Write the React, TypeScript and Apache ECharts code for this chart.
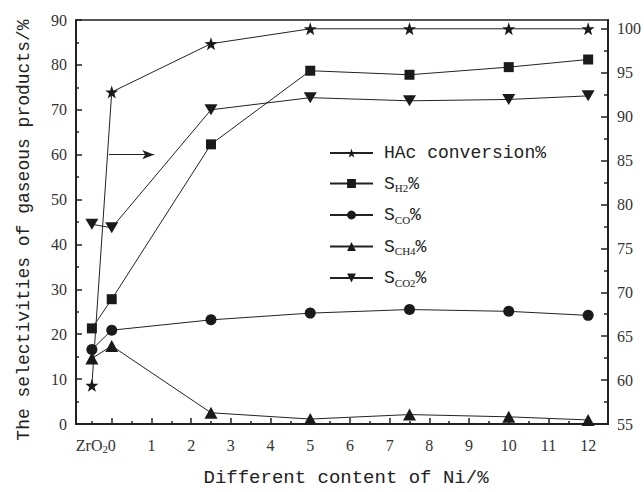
import React, { useEffect, useRef } from "react";
import * as echarts from "echarts";

// ---- data ----
const xValues = [-0.5, 0, 2.5, 5, 7.5, 10, 12];
const hacConversion = [59.4, 92.8, 98.3, 100, 100, 100, 100];
const sH2 = [21.3, 27.8, 62.3, 78.7, 77.8, 79.5, 81.2];
const sCO = [16.6, 20.9, 23.2, 24.7, 25.5, 25.1, 24.2];
const sCH4 = [14.6, 17.4, 2.5, 1.1, 2.1, 1.6, 0.9];
const sCO2 = [44.5, 43.7, 70.0, 72.7, 72.0, 72.3, 73.1];

const xMajorTicks = [0, 1, 2, 3, 4, 5, 6, 7, 8, 9, 10, 11, 12];
const xSupportLabel = [-0.5];
const xMinorTicks = [-0.5, 0.5, 1.5, 2.5, 3.5, 4.5, 5.5, 6.5, 7.5, 8.5, 9.5, 10.5, 11.5];
const rightMajorTicks = [55, 60, 65, 70, 75, 80, 85, 90, 95, 100];
const rightMinorTicks = [57.5, 62.5, 67.5, 72.5, 77.5, 82.5, 87.5, 92.5, 97.5];
const arrowFrom = [-0.07, 60];
const arrowTo = [1.07, 60];

const seriesNames = ["HAc conversion%", "SH2%", "SCO%", "SCH4%", "SCO2%"];
const legendLabels: Record<string, string> = {
  "HAc conversion%": "{m|HAc conversion%}",
  "SH2%": "{m|S}{s|H2}{m|%}",
  "SCO%": "{m|S}{s|CO}{m|%}",
  "SCH4%": "{m|S}{s|CH4}{m|%}",
  "SCO2%": "{m|S}{s|CO2}{m|%}",
};

const STAR =
  "path://M100 0 L123.5 67.6 L195.1 69.1 L138 112.4 L158.8 180.9 L100 140 L41.2 180.9 L62 112.4 L4.9 69.1 L76.5 67.6 Z";
const DOWN_TRI = "path://M0 0 L20 0 L10 17 Z";

const INK = "#1a1a1a";
const MONO = "'Liberation Mono', 'DejaVu Sans Mono', monospace";
const SERIF = "'Liberation Serif', 'DejaVu Serif', serif";

export default function App() {
  const ref = useRef<HTMLDivElement>(null);
  useEffect(() => {
    if (!ref.current) return;
    const chart = echarts.init(ref.current, undefined, { renderer: "svg" });
    const pts = (arr: number[]) => arr.map((v, i) => [xValues[i], v]);
    const lineBase = {
      type: "line" as const,
      xAxisIndex: 0,
      lineStyle: { color: "#222", width: 1 },
      itemStyle: { color: INK },
      showSymbol: true,
      z: 3,
    };
    const tickLabel = { margin: 12, fontFamily: SERIF, fontSize: 16, color: "#333", lineHeight: 18 };
    chart.setOption({
      animation: false,
      backgroundColor: "#fff",
      grid: {
        left: 76,
        top: 20,
        right: 36,
        bottom: 68,
        show: true,
        borderColor: "#222",
        borderWidth: 1.5,
        backgroundColor: "transparent",
      },
      legend: {
        orient: "vertical",
        left: 324,
        top: 139,
        itemWidth: 43,
        itemHeight: 11,
        itemGap: 12.5,
        data: seriesNames,
        formatter: (name: string) => legendLabels[name] || name,
        textStyle: {
          color: "#222",
          padding: [0, 0, 0, 6],
          rich: {
            m: { fontFamily: MONO, fontSize: 18, lineHeight: 20, color: "#222" },
            s: {
              fontFamily: SERIF,
              fontSize: 11,
              lineHeight: 0,
              verticalAlign: "bottom",
              color: "#222",
            },
          },
        },
      },
      xAxis: [
        {
          type: "value",
          min: -0.9,
          max: 12.5,
          position: "bottom",
          name: "Different content of Ni/%",
          nameLocation: "middle",
          nameGap: 44,
          nameTextStyle: {
            fontFamily: MONO,
            fontSize: 19,
            color: "#222",
            padding: [0, 0, 0, 8],
          },
          axisLine: { show: true, onZero: false, lineStyle: { color: "#222", width: 2 } },
          axisTick: {
            show: true,
            inside: true,
            length: 6,
            customValues: xMajorTicks,
            lineStyle: { color: "#222", width: 1.5 },
          },
          axisLabel: {
            ...tickLabel,
            customValues: xSupportLabel,
            showMinLabel: true,
            showMaxLabel: true,
            formatter: () => "{m|ZrO}{s|2}",
            rich: {
              m: { fontFamily: SERIF, fontSize: 16, lineHeight: 18, color: "#333" },
              s: {
                fontFamily: SERIF,
                fontSize: 11,
                lineHeight: 4,
                verticalAlign: "bottom",
                color: "#333",
              },
            },
          },
          splitLine: { show: false },
        },
        {
          type: "value",
          min: -0.9,
          max: 12.5,
          position: "bottom",
          axisLine: { show: false, onZero: false },
          axisTick: {
            show: true,
            inside: true,
            length: 3,
            customValues: xMinorTicks,
            lineStyle: { color: "#222", width: 1.5 },
          },
          axisLabel: {
            ...tickLabel,
            customValues: xMajorTicks,
            showMinLabel: true,
            showMaxLabel: true,
          },
          splitLine: { show: false },
        },
      ],
      yAxis: [
        {
          type: "value",
          min: 0,
          max: 90,
          interval: 10,
          position: "left",
          name: "The selectivities of gaseous products/%",
          nameLocation: "middle",
          nameRotate: 90,
          nameGap: 43,
          nameTextStyle: {
            fontFamily: MONO,
            fontSize: 18,
            color: "#222",
            padding: [0, 16, 0, 0],
          },
          axisLine: { show: true, onZero: false, lineStyle: { color: "#222", width: 2 } },
          axisTick: { show: true, inside: true, length: 6, lineStyle: { color: "#222", width: 1.5 } },
          minorTick: { show: true, splitNumber: 2, length: 3, lineStyle: { color: "#222", width: 1.5 } },
          axisLabel: { margin: 9, fontFamily: SERIF, fontSize: 16, color: "#333" },
          splitLine: { show: false },
        },
        {
          type: "value",
          min: 55,
          max: 101,
          position: "right",
          axisLine: { show: true, onZero: false, lineStyle: { color: "#222", width: 2 } },
          axisTick: {
            show: true,
            inside: true,
            length: 7,
            customValues: rightMajorTicks,
            lineStyle: { color: "#222", width: 1.5 },
          },
          axisLabel: {
            customValues: rightMajorTicks,
            margin: 9,
            fontFamily: SERIF,
            fontSize: 16,
            color: "#333",
          },
          splitLine: { show: false },
        },
        {
          type: "value",
          min: 55,
          max: 101,
          position: "right",
          axisLine: { show: false, onZero: false },
          axisTick: {
            show: true,
            inside: true,
            length: 4,
            customValues: rightMinorTicks,
            lineStyle: { color: "#222", width: 1.5 },
          },
          axisLabel: { show: false },
          splitLine: { show: false },
        },
      ],
      series: [
        {
          ...lineBase,
          name: seriesNames[0],
          yAxisIndex: 1,
          symbol: STAR,
          symbolSize: 13,
          data: pts(hacConversion),
        },
        {
          ...lineBase,
          name: seriesNames[1],
          yAxisIndex: 0,
          symbol: "rect",
          symbolSize: 10,
          data: pts(sH2),
          markLine: {
            silent: true,
            symbol: ["none", "arrow"],
            symbolSize: [7, 12],
            lineStyle: { color: "#222", width: 1, type: "solid" },
            label: { show: false },
            data: [[{ coord: arrowFrom }, { coord: arrowTo }]],
          },
        },
        {
          ...lineBase,
          name: seriesNames[2],
          yAxisIndex: 0,
          symbol: "circle",
          symbolSize: 11,
          data: pts(sCO),
        },
        {
          ...lineBase,
          name: seriesNames[3],
          yAxisIndex: 0,
          symbol: "triangle",
          symbolSize: [13, 12],
          data: pts(sCH4),
        },
        {
          ...lineBase,
          name: seriesNames[4],
          yAxisIndex: 0,
          symbol: DOWN_TRI,
          symbolSize: [13, 11],
          data: pts(sCO2),
        },
      ],
    });
    return () => chart.dispose();
  }, []);
  return (
    <div
      ref={ref}
      style={{ position: "fixed", left: 0, top: 0, width: 644, height: 492 }}
    />
  );
}
